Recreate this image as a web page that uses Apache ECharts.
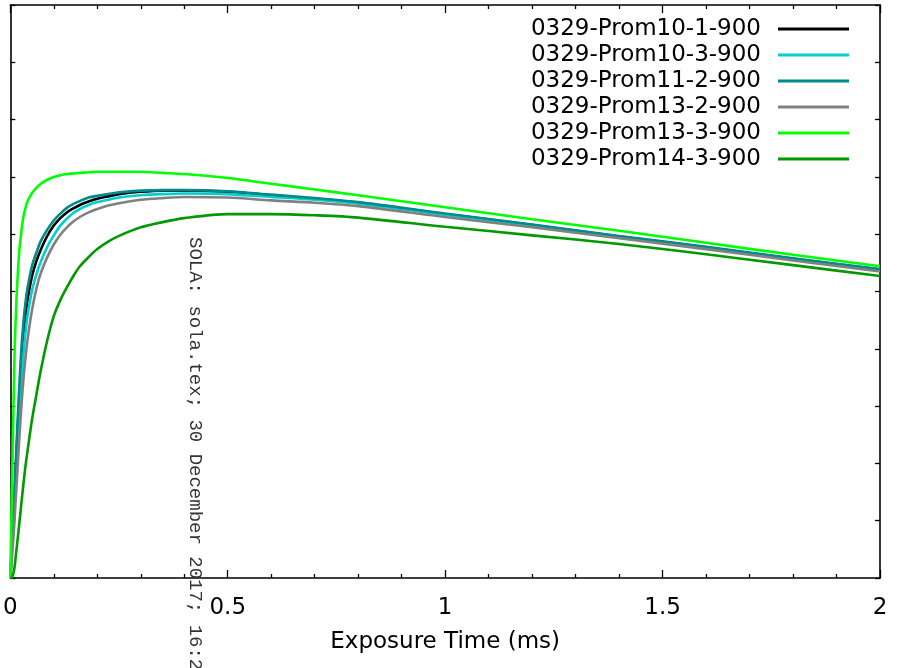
<!DOCTYPE html>
<html>
<head>
<meta charset="utf-8">
<script src="https://cdn.jsdelivr.net/npm/echarts@6/dist/echarts.min.js"></script>
<style>
  html, body { margin: 0; padding: 0; background: #fff; }
  #chart { width: 899px; height: 668px; }
</style>
</head>
<body>
<div id="chart"></div>
<script>
// Exposure time sample points (ms)
var exposureTime = [0, 0.0025, 0.005, 0.0075, 0.01, 0.0125, 0.015, 0.02, 0.025, 0.03, 0.035, 0.04,
                    0.05, 0.06, 0.07, 0.085, 0.1, 0.115, 0.13, 0.145, 0.16, 0.18, 0.2, 0.225,
                    0.25, 0.3, 0.35, 0.4, 0.5, 0.6, 0.7, 0.8, 1.0, 1.2, 1.4, 1.6, 1.8, 2.0];

// Signal curves, one per prominence observation
var prom10_1 = [0, 0.37, 0.74, 1.1, 1.5, 1.9, 2.3, 3.05, 3.7, 4.2, 4.58, 4.87,
                5.27, 5.53, 5.73, 5.97, 6.15, 6.28, 6.38, 6.45, 6.51, 6.57, 6.62, 6.66,
                6.7, 6.74, 6.76, 6.76, 6.74, 6.68, 6.62, 6.55, 6.35, 6.16, 5.96, 5.77, 5.57, 5.38];
var prom10_3 = [0, 0.32, 0.65, 0.97, 1.3, 1.65, 2.0, 2.7, 3.35, 3.9, 4.3, 4.6,
                5.02, 5.3, 5.52, 5.78, 5.98, 6.15, 6.27, 6.37, 6.44, 6.51, 6.56, 6.6,
                6.64, 6.68, 6.7, 6.71, 6.7, 6.65, 6.6, 6.53, 6.34, 6.15, 5.95, 5.76, 5.56, 5.37];
var prom11_2 = [0, 0.4, 0.78, 1.18, 1.6, 2.0, 2.45, 3.25, 3.95, 4.45, 4.82, 5.08,
                5.45, 5.68, 5.88, 6.08, 6.24, 6.36, 6.46, 6.53, 6.58, 6.64, 6.67, 6.7,
                6.73, 6.76, 6.77, 6.77, 6.75, 6.69, 6.63, 6.56, 6.36, 6.17, 5.97, 5.78, 5.58, 5.39];
var prom13_2 = [0, 0.22, 0.48, 0.75, 1.05, 1.38, 1.7, 2.35, 2.95, 3.45, 3.85, 4.18,
                4.68, 5.05, 5.32, 5.6, 5.82, 5.99, 6.12, 6.22, 6.3, 6.38, 6.44, 6.5,
                6.54, 6.6, 6.63, 6.65, 6.64, 6.59, 6.55, 6.49, 6.3, 6.12, 5.93, 5.74, 5.54, 5.35];
var prom13_3 = [0, 1.05, 2.05, 3.05, 4.0, 4.55, 5.0, 5.65, 6.02, 6.3, 6.46, 6.58,
                6.72, 6.81, 6.88, 6.95, 7.0, 7.03, 7.05, 7.06, 7.07, 7.08, 7.09, 7.09,
                7.09, 7.09, 7.07, 7.05, 6.98, 6.88, 6.78, 6.68, 6.47, 6.26, 6.06, 5.85, 5.64, 5.44];
var prom14_3 = [0, 0, 0.03, 0.1, 0.2, 0.38, 0.55, 0.9, 1.27, 1.63, 1.96, 2.24,
                2.77, 3.2, 3.62, 4.15, 4.57, 4.85, 5.07, 5.27, 5.44, 5.6, 5.74, 5.87,
                5.97, 6.12, 6.21, 6.28, 6.35, 6.35, 6.33, 6.29, 6.13, 5.98, 5.83, 5.65, 5.46, 5.27];

var seriesNames = ['0329-Prom10-1-900', '0329-Prom10-3-900', '0329-Prom11-2-900',
                   '0329-Prom13-2-900', '0329-Prom13-3-900', '0329-Prom14-3-900'];
var seriesValues = [prom10_1, prom10_3, prom11_2, prom13_2, prom13_3, prom14_3];
var seriesColors = ['#000000', '#00cfd2', '#008b8b', '#808080', '#00ff00', '#009a00'];

var xTicks = [0, 0.5, 1, 1.5, 2];

var chart = echarts.init(document.getElementById('chart'), null, { renderer: 'canvas' });

var FONT = 'DejaVu Sans';

function pairs(values) {
  return exposureTime.map(function (t, i) { return [t, values[i]]; });
}

var series = seriesNames.map(function (name, i) {
  return {
    name: name,
    type: 'line',
    data: pairs(seriesValues[i]),
    smooth: 0.3,
    showSymbol: false,
    symbol: 'none',
    lineStyle: { color: seriesColors[i], width: 2.6 },
    itemStyle: { color: seriesColors[i] },
    xAxisIndex: 0,
    yAxisIndex: 0,
    animation: false
  };
});

var frameLine = { show: true, onZero: false, lineStyle: { color: '#000', width: 1.6 } };

var option = {
  backgroundColor: '#ffffff',
  animation: false,
  grid: { left: 3, right: 19, top: 5, bottom: 90, containLabel: false },
  legend: {
    orient: 'vertical',
    align: 'right',
    right: 45,
    top: 11,
    itemWidth: 71,
    itemHeight: 3,
    itemGap: 0,
    icon: 'rect',
    selectedMode: false,
    textStyle: {
      fontFamily: FONT,
      fontSize: 23,
      color: '#000',
      lineHeight: 26,
      padding: [0, 12, 0, 0]
    },
    data: seriesNames
  },
  xAxis: [{
    type: 'value',
    position: 'bottom',
    min: 0,
    max: 2,
    interval: 0.5,
    name: 'Exposure Time (ms)',
    nameLocation: 'middle',
    nameGap: 53,
    nameTextStyle: { fontFamily: FONT, fontSize: 23, color: '#000' },
    axisLine: frameLine,
    axisTick: { show: true, inside: true, length: 8, lineStyle: { color: '#000', width: 1.3 } },
    minorTick: { show: true, splitNumber: 5, length: 4, lineStyle: { color: '#000', width: 1.3 } },
    axisLabel: {
      show: true,
      margin: 19,
      fontFamily: FONT,
      fontSize: 23,
      color: '#000',
      customValues: xTicks
    },
    splitLine: { show: false }
  }, {
    type: 'value',
    position: 'top',
    min: 0,
    max: 2,
    interval: 0.5,
    axisLine: frameLine,
    axisTick: { show: true, inside: true, length: 8, lineStyle: { color: '#000', width: 1.3 } },
    minorTick: { show: true, splitNumber: 5, length: 4, lineStyle: { color: '#000', width: 1.3 } },
    axisLabel: { show: false },
    splitLine: { show: false }
  }],
  yAxis: [{
    type: 'value',
    position: 'left',
    min: 0,
    max: 10,
    interval: 1,
    axisLine: frameLine,
    axisTick: { show: true, inside: true, length: 5, lineStyle: { color: '#000', width: 1.3 } },
    axisLabel: { show: false },
    splitLine: { show: false }
  }, {
    type: 'value',
    position: 'right',
    min: 0,
    max: 10,
    interval: 1,
    axisLine: frameLine,
    axisTick: { show: true, inside: true, length: 5, lineStyle: { color: '#000', width: 1.3 } },
    axisLabel: { show: false },
    splitLine: { show: false }
  }],
  graphic: [{
    type: 'text',
    x: 195,
    y: 237,
    rotation: -Math.PI / 2,
    z: 100,
    style: {
      text: 'SOLA: sola.tex; 30 December 2017; 16:27',
      font: '19px "Liberation Mono"',
      fill: '#333333',
      align: 'left',
      verticalAlign: 'middle'
    }
  }],
  series: series
};

chart.setOption(option);
</script>
</body>
</html>
